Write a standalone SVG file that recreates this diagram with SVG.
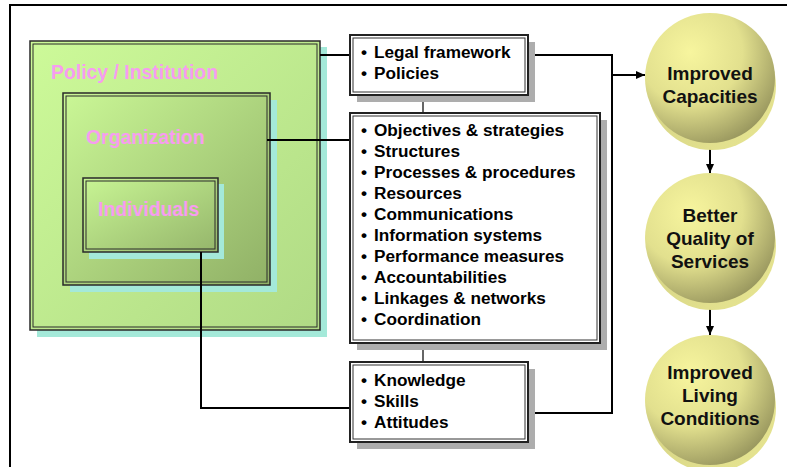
<svg xmlns="http://www.w3.org/2000/svg" width="787" height="467" viewBox="0 0 787 467">
<defs>
<style>
.lbl{font-family:"Liberation Sans",Arial,sans-serif;font-weight:bold;font-size:19.4px;fill:#F79CF0}
.itm{font-family:"Liberation Sans",Arial,sans-serif;font-weight:bold;font-size:17.2px;fill:#000}
.ctx{font-family:"Liberation Sans",Arial,sans-serif;font-weight:bold;font-size:19px;fill:#111;text-anchor:middle}
.gb{stroke:#2a2a2a;stroke-width:1.5}
.gi{fill:none;stroke:#2a2a2a;stroke-width:1}
.cy{fill:#A4E9D9}
.gs{fill:#ADADAD}
.wb{fill:#fff;stroke:#222;stroke-width:2}
.wi{fill:none;stroke:#333;stroke-width:1}
.ln{fill:none;stroke:#000;stroke-width:2}
.tn{fill:none;stroke:#333;stroke-width:1.5}
.back{fill:url(#rim)}
.front{fill:url(#ball)}
</style>
<linearGradient id="g1" x1="0" y1="0" x2="1" y2="1">
<stop offset="0" stop-color="#CDFA99"/><stop offset="1" stop-color="#B0DA85"/>
</linearGradient>
<linearGradient id="g2" x1="0" y1="0" x2="1" y2="1">
<stop offset="0" stop-color="#CAF796"/><stop offset="1" stop-color="#90B066"/>
</linearGradient>
<linearGradient id="g3" x1="0" y1="0" x2="1" y2="1">
<stop offset="0" stop-color="#C8F594"/><stop offset="1" stop-color="#95B56B"/>
</linearGradient>
<radialGradient id="ball" cx="0.35" cy="0.3" r="0.8">
<stop offset="0" stop-color="#F7F59E"/><stop offset="0.5" stop-color="#E2E08E"/><stop offset="1" stop-color="#8F8D58"/>
</radialGradient>
<linearGradient id="rim" x1="0" y1="0" x2="1" y2="1">
<stop offset="0" stop-color="#CFCD80"/><stop offset="1" stop-color="#E8E692"/>
</linearGradient>
<marker id="ah" markerWidth="10" markerHeight="10" refX="9" refY="5" orient="auto" markerUnits="userSpaceOnUse">
<path d="M0,1 L9,5 L0,9 Z" fill="#000"/>
</marker>
</defs>
<rect width="787" height="467" fill="#fff"/>
<path d="M10,467 V5 H787" fill="none" stroke="#000" stroke-width="2"/>

<g id="policy">
<rect class="cy" x="37" y="47" width="290" height="290"/>
<rect class="gb" x="30" y="41" width="290" height="289" fill="url(#g1)"/>
<rect class="gi" x="33" y="44" width="284" height="283"/>
<text class="lbl" x="51" y="79">Policy / Institution</text>
</g>
<g id="organization">
<rect class="cy" x="70" y="100" width="207" height="192"/>
<rect class="gb" x="63" y="93" width="207" height="192" fill="url(#g2)"/>
<rect class="gi" x="66" y="96" width="201" height="186"/>
<text class="lbl" x="86" y="144">Organization</text>
</g>
<g id="individuals">
<rect class="cy" x="89" y="184" width="135" height="75"/>
<rect class="gb" x="83" y="178" width="135" height="74" fill="url(#g3)"/>
<rect class="gi" x="86" y="181" width="129" height="68"/>
<text class="lbl" x="98" y="216">Individuals</text>
</g>

<g id="connectors">
<path class="ln" d="M320,55 H350"/>
<path class="ln" d="M267,140 H350"/>
<path class="ln" d="M201,252 V408 H350"/>
<path class="tn" d="M423,95 V113"/>
<path class="tn" d="M423,343 V362"/>
<path class="ln" d="M528,55 H612 V413 H528"/>
<path class="ln" d="M612,75 H645" marker-end="url(#ah)"/>
<path class="ln" d="M710,143 V173" marker-end="url(#ah)"/>
<path class="ln" d="M710,304 V335" marker-end="url(#ah)"/>
</g>

<g id="box-policy">
<rect class="gs" x="357" y="42" width="178" height="60"/>
<rect class="wb" x="350" y="35" width="178" height="60"/>
<rect class="wi" x="353" y="38" width="172" height="54"/>
<text class="itm" y="58"><tspan x="361">•</tspan><tspan x="374">Legal framework</tspan></text>
<text class="itm" y="79"><tspan x="361">•</tspan><tspan x="374">Policies</tspan></text>
</g>
<g id="box-organization">
<rect class="gs" x="357" y="120" width="250" height="230"/>
<rect class="wb" x="350" y="113" width="250" height="230"/>
<rect class="wi" x="353" y="116" width="244" height="224"/>
<text class="itm" y="136"><tspan x="361">•</tspan><tspan x="374">Objectives &amp; strategies</tspan></text>
<text class="itm" y="157"><tspan x="361">•</tspan><tspan x="374">Structures</tspan></text>
<text class="itm" y="178"><tspan x="361">•</tspan><tspan x="374">Processes &amp; procedures</tspan></text>
<text class="itm" y="199"><tspan x="361">•</tspan><tspan x="374">Resources</tspan></text>
<text class="itm" y="220"><tspan x="361">•</tspan><tspan x="374">Communications</tspan></text>
<text class="itm" y="241"><tspan x="361">•</tspan><tspan x="374">Information systems</tspan></text>
<text class="itm" y="262"><tspan x="361">•</tspan><tspan x="374">Performance measures</tspan></text>
<text class="itm" y="283"><tspan x="361">•</tspan><tspan x="374">Accountabilities</tspan></text>
<text class="itm" y="304"><tspan x="361">•</tspan><tspan x="374">Linkages &amp; networks</tspan></text>
<text class="itm" y="325"><tspan x="361">•</tspan><tspan x="374">Coordination</tspan></text>
</g>
<g id="box-individuals">
<rect class="gs" x="357" y="369" width="178" height="80"/>
<rect class="wb" x="350" y="362" width="178" height="80"/>
<rect class="wi" x="353" y="365" width="172" height="74"/>
<text class="itm" y="386"><tspan x="361">•</tspan><tspan x="374">Knowledge</tspan></text>
<text class="itm" y="407"><tspan x="361">•</tspan><tspan x="374">Skills</tspan></text>
<text class="itm" y="428"><tspan x="361">•</tspan><tspan x="374">Attitudes</tspan></text>
</g>

<g id="circle-capacities">
<circle class="back" cx="712" cy="86" r="64"/>
<circle class="front" cx="710" cy="78" r="65"/>
<text class="ctx" x="710" y="80">Improved</text>
<text class="ctx" x="710" y="103">Capacities</text>
</g>
<g id="circle-services">
<circle class="back" cx="712" cy="246" r="64"/>
<circle class="front" cx="710" cy="238" r="65"/>
<text class="ctx" x="710" y="222">Better</text>
<text class="ctx" x="710" y="245">Quality of</text>
<text class="ctx" x="710" y="268">Services</text>
</g>
<g id="circle-living">
<circle class="back" cx="712" cy="408" r="64"/>
<circle class="front" cx="710" cy="400" r="65"/>
<text class="ctx" x="710" y="379">Improved</text>
<text class="ctx" x="710" y="402">Living</text>
<text class="ctx" x="710" y="425">Conditions</text>
</g>
</svg>
